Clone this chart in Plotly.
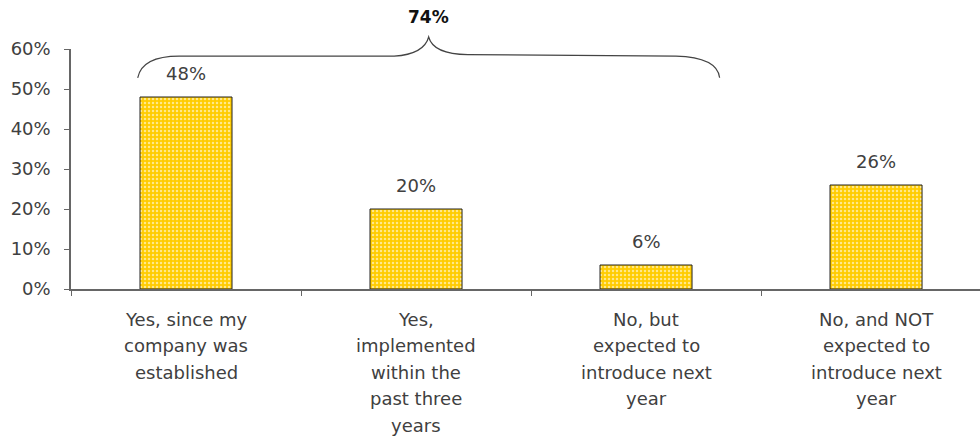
import plotly.graph_objects as go

# Survey answers and share of respondents (%)
category_lines = [
    ["Yes, since my", "company was", "established"],
    ["Yes,", "implemented", "within the", "past three", "years"],
    ["No, but", "expected to", "introduce next", "year"],
    ["No, and NOT", "expected to", "introduce next", "year"],
]
categories = [" ".join(lines) for lines in category_lines]
shares = [48, 20, 6, 26]
y_tick_values = [0, 10, 20, 30, 40, 50, 60]
bracket_members = [0, 1, 2]  # bars grouped by the brace

FONT = "DejaVu Sans"
TEXT = "#404040"
AXIS = "#666666"

W, H = 980, 438
ML, MR, MT, MB = 71, 0, 49, 149
X_RANGE = [-0.5, 3.452]
Y_RANGE = [0, 60]

fig = go.Figure()
fig.add_trace(go.Bar(
    x=categories,
    y=shares,
    width=0.4,
    marker=dict(
        color="#FFCC00",
        line=dict(color="#222222", width=1),
        pattern=dict(shape=".", fgcolor="white", bgcolor="#FFCC00",
                     size=4, solidity=0.3, fgopacity=0.55),
    ),
    hoverinfo="skip",
))

annotations = []
# value labels over the bars
for cat, v in zip(categories, shares):
    annotations.append(dict(
        x=cat, y=v, xref="x", yref="y", text=f"{v}%", showarrow=False,
        yanchor="middle", yshift=24,
        font=dict(family=FONT, size=18, color=TEXT),
    ))
# multi-line category labels below the axis
for cat, lines in zip(categories, category_lines):
    for i, line in enumerate(lines):
        annotations.append(dict(
            x=cat, y=0, xref="x", yref="paper", text=line, showarrow=False,
            yanchor="middle", yshift=-(30 + 26.5 * i),
            font=dict(family=FONT, size=18, color=TEXT),
        ))


def px(xd):
    return (xd - X_RANGE[0]) / (X_RANGE[1] - X_RANGE[0])


def py(yd):
    return (yd - Y_RANGE[0]) / (Y_RANGE[1] - Y_RANGE[0])


# curly brace spanning the grouped bars
xl = bracket_members[0] - 0.21
xr = bracket_members[-1] + 0.32
xm = (xl + xr) / 2
y_end, y_h, y_peak = 52.8, 58.2, 63.0
pts = [
    ("M", [(xl, y_end)]),
    ("Q", [(xl + 0.02, y_h), (xl + 0.18, y_h)]),
    ("L", [(xm - 0.15, y_h)]),
    ("Q", [(xm - 0.02, y_h + 0.5), (xm, y_peak)]),
    ("Q", [(xm + 0.02, y_h + 0.5), (xm + 0.17, y_h + 0.4)]),
    ("L", [(xr - 0.19, y_h)]),
    ("Q", [(xr - 0.01, y_h - 0.3), (xr, y_end)]),
]
path = " ".join(
    cmd + " " + " ".join(f"{px(a):.5f},{py(b):.5f}" for a, b in coords)
    for cmd, coords in pts
)
shapes = [dict(type="path", path=path, xref="paper", yref="paper",
               line=dict(color="#444444", width=1.2))]

total = sum(shares[i] for i in bracket_members)
annotations.append(dict(
    x=px(xm), y=py(y_peak), xref="paper", yref="paper", text=f"<b>{total}%</b>",
    showarrow=False, yanchor="middle", yshift=20,
    font=dict(family=FONT, size=17, color="#111111"),
))

fig.update_layout(
    width=W, height=H,
    margin=dict(l=ML, r=MR, t=MT, b=MB, pad=0),
    paper_bgcolor="white", plot_bgcolor="white",
    showlegend=False,
    annotations=annotations,
    shapes=shapes,
    xaxis=dict(
        type="category", categoryorder="array", categoryarray=categories,
        range=X_RANGE, tickson="boundaries", ticks="outside", ticklen=5,
        tickcolor=AXIS, showticklabels=False, showline=True,
        linecolor=AXIS, linewidth=1.5, showgrid=False, zeroline=False,
    ),
    yaxis=dict(
        range=Y_RANGE, tickvals=y_tick_values,
        ticktext=[f"{v}%" for v in y_tick_values],
        ticks="outside", ticklen=5, tickcolor=AXIS,
        showline=True, linecolor=AXIS, linewidth=1.5,
        showgrid=False, zeroline=False, ticklabelstandoff=10,
        tickfont=dict(family=FONT, size=18, color=TEXT),
    ),
)

fig.write_html("out.html")
